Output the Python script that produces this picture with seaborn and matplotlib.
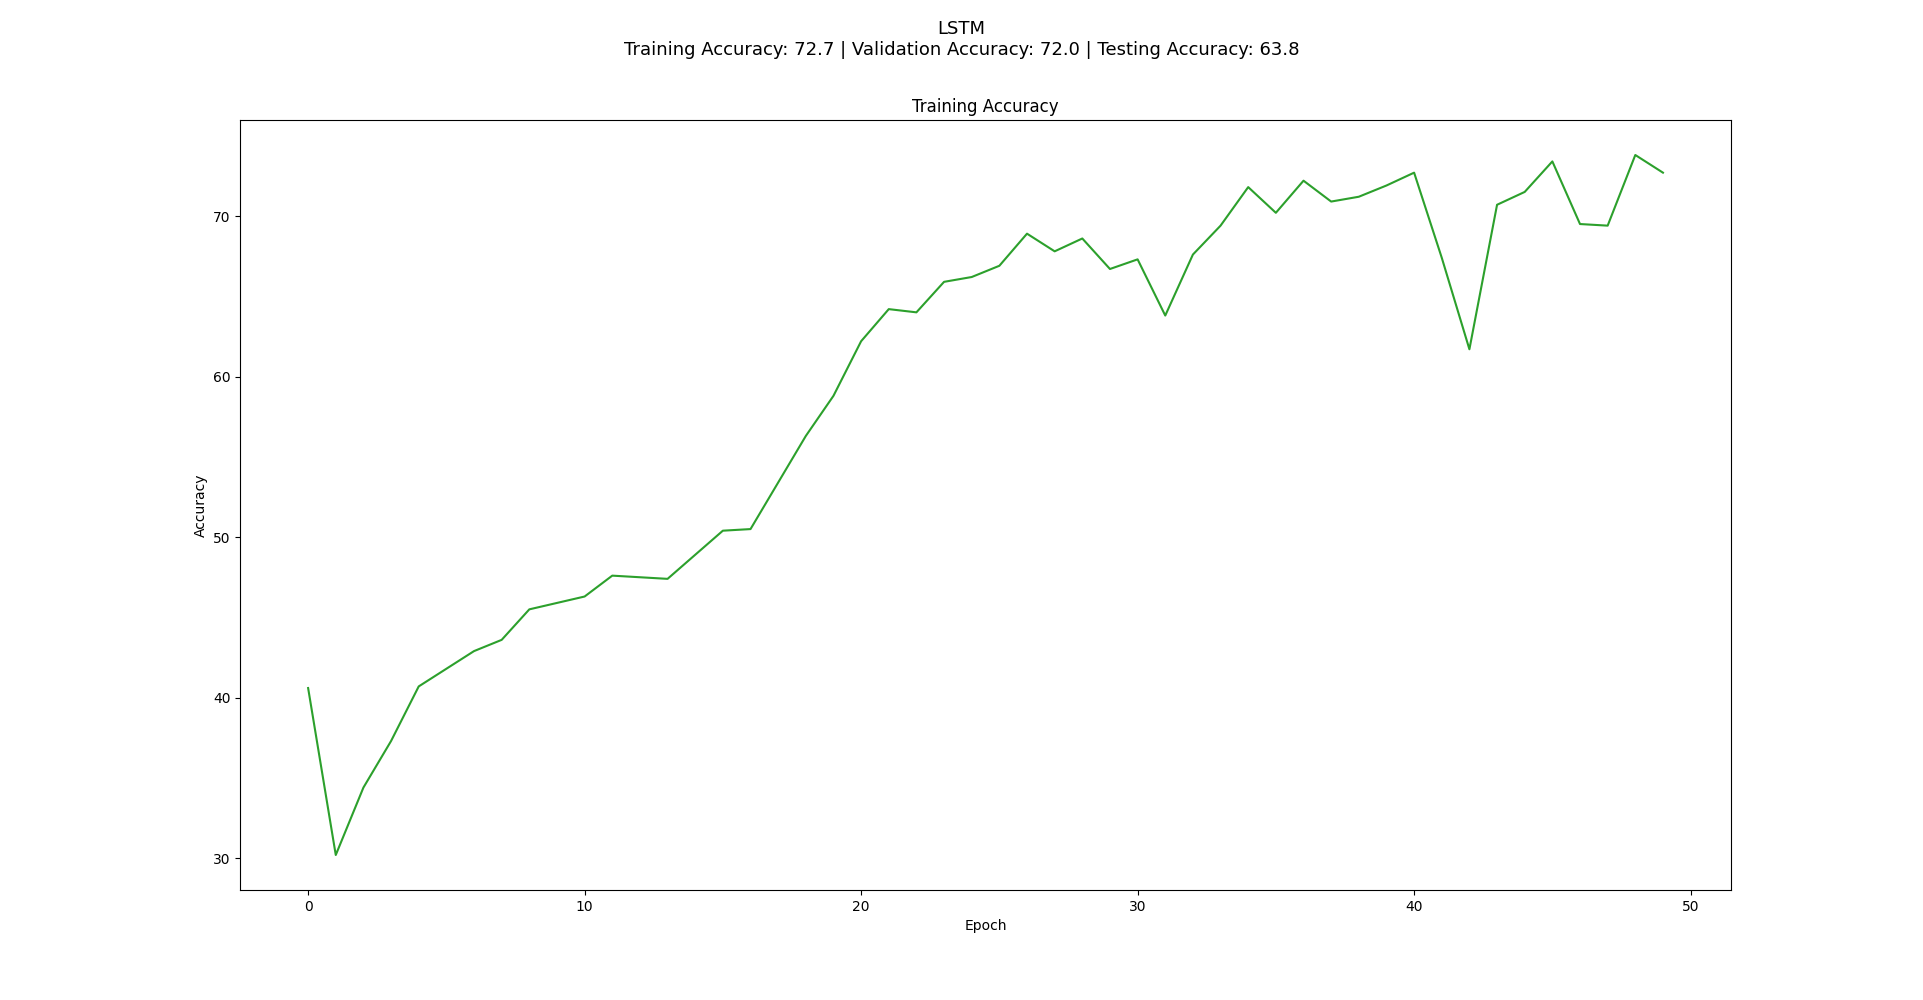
import matplotlib
matplotlib.use("Agg")
import matplotlib.pyplot as plt
import seaborn as sns
import pandas as pd

epochs = list(range(50))
train_acc = [40.6, 30.2, 34.4, 37.3, 40.7, 41.8, 42.9, 43.6, 45.5, 45.9,
             46.3, 47.6, 47.5, 47.4, 48.9, 50.4, 50.5, 53.4, 56.3, 58.8,
             62.2, 64.2, 64.0, 65.9, 66.2, 66.9, 68.9, 67.8, 68.6, 66.7,
             67.3, 63.8, 67.6, 69.4, 71.8, 70.2, 72.2, 70.9, 71.2, 71.9,
             72.7, 67.4, 61.7, 70.7, 71.5, 73.4, 69.5, 69.4, 73.8, 72.7]

df = pd.DataFrame({"Epoch": epochs, "Accuracy": train_acc})

fig, ax = plt.subplots(figsize=(19.23, 10.0), dpi=100)
sns.lineplot(data=df, x="Epoch", y="Accuracy", color="#2ca02c", ax=ax, linewidth=1.5)
ax.set_title("Training Accuracy", fontsize=12)
ax.set_xlabel("Epoch")
ax.set_ylabel("Accuracy")
fig.suptitle("LSTM\nTraining Accuracy: 72.7 | Validation Accuracy: 72.0 | Testing Accuracy: 63.8", fontsize=13)
fig.savefig("out.png", dpi=100)
